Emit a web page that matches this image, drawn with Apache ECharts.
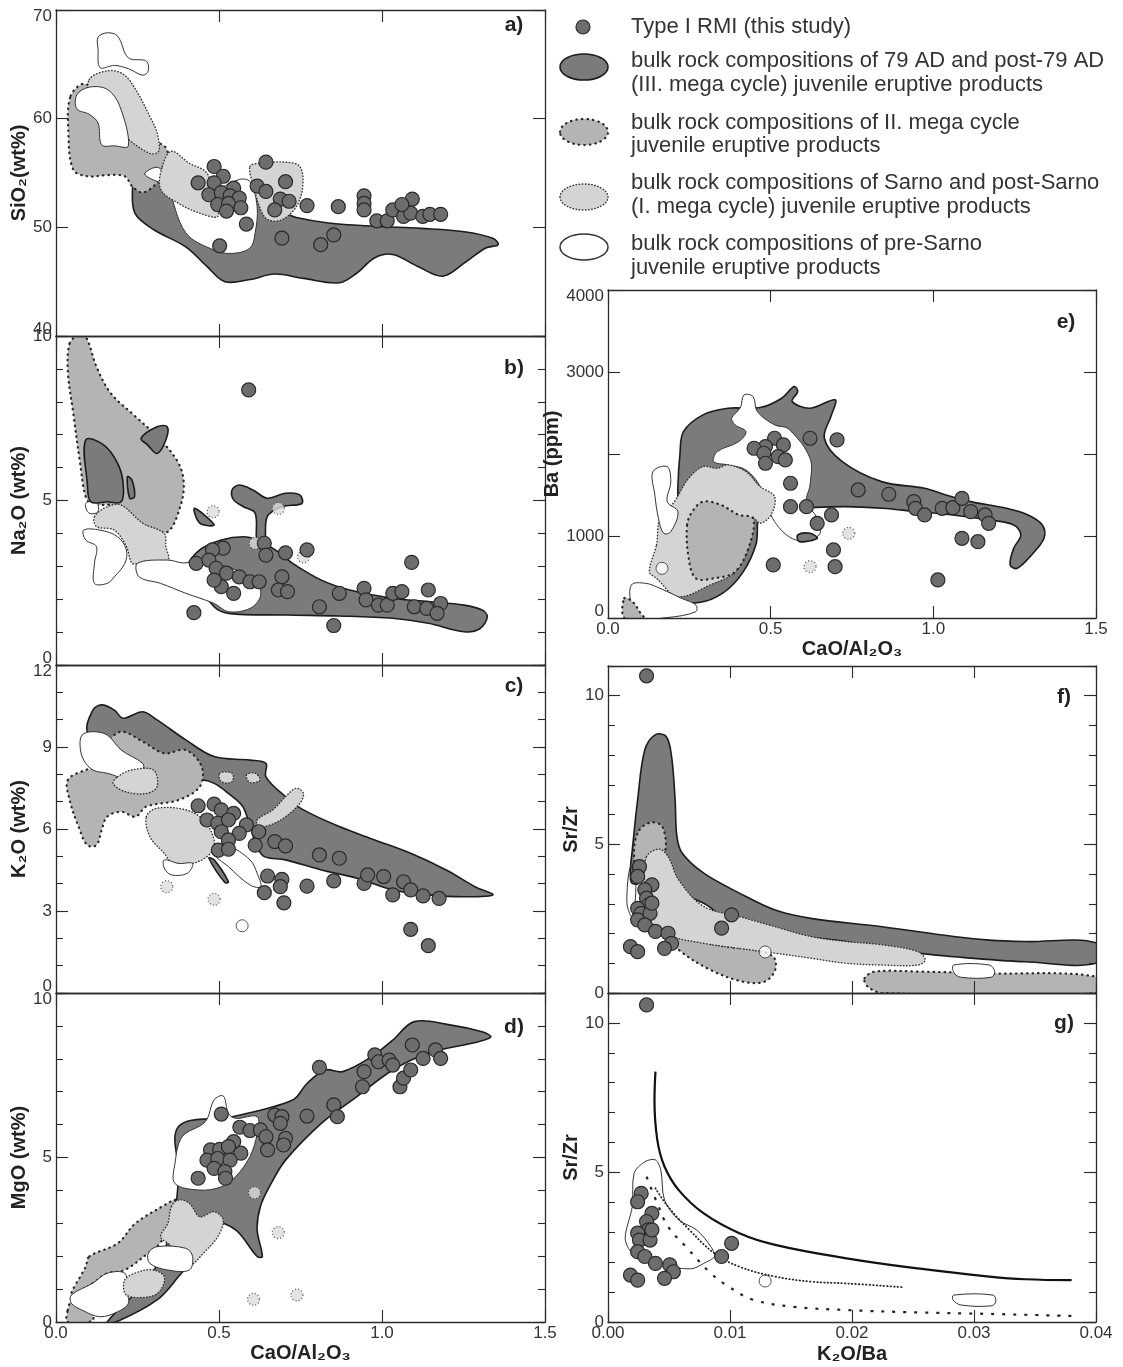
<!DOCTYPE html>
<html><head><meta charset="utf-8">
<script src="https://cdn.jsdelivr.net/npm/echarts/dist/echarts.min.js"></script>
<style>html,body{margin:0;padding:0;background:#fff}#c{width:1123px;height:1367px}</style>
</head><body><div id="c"></div><script>
// ---------------- DATA ----------------
// Panel a: SiO2 vs CaO/Al2O3
const aDark=[[0.235,53.8],[0.242,51.3],[0.299,49.8],[0.398,48.2],[0.463,46.4],[0.518,45.0],[0.595,45.2],[0.671,45.7],[0.759,45.3],[0.869,44.9],[0.923,45.8],[0.978,47.2],[1.033,47.5],[1.110,46.4],[1.186,45.5],[1.252,46.7],[1.318,48.1],[1.356,48.4],[1.340,49.0],[1.252,49.6],[1.120,49.9],[0.978,50.1],[0.836,50.4],[0.737,50.9],[0.704,51.3],[0.617,52.6],[0.485,52.6],[0.343,53.8],[0.288,54.7],[0.244,54.7]];
const aMid=[[0.045,62.1],[0.091,63.2],[0.157,60.9],[0.244,58.1],[0.332,57.5],[0.343,55.6],[0.310,54.1],[0.266,53.2],[0.233,53.8],[0.211,54.7],[0.157,54.8],[0.096,54.7],[0.053,55.3],[0.038,58.7]];
const aLight1=[[0.102,63.6],[0.157,64.4],[0.206,64.1],[0.244,62.7],[0.288,60.2],[0.310,58.7],[0.315,57.0],[0.288,56.8],[0.222,58.1],[0.157,59.9],[0.107,61.8]];
const aLight2=[[0.326,55.6],[0.354,57.0],[0.409,55.9],[0.463,55.0],[0.485,52.6],[0.496,51.0],[0.441,51.3],[0.376,52.2],[0.321,53.5]];
const aLight3=[[0.595,55.6],[0.628,55.9],[0.704,56.0],[0.748,55.6],[0.757,53.8],[0.737,51.9],[0.693,50.7],[0.650,50.7],[0.628,51.6],[0.606,53.8]];
const aWhite1=[[0.129,67.5],[0.157,67.9],[0.189,67.6],[0.222,65.6],[0.277,65.3],[0.283,64.4],[0.266,64.0],[0.222,64.6],[0.179,64.9],[0.135,64.7],[0.129,66.4]];
const aWhite2=[[0.064,62.2],[0.102,62.9],[0.157,62.7],[0.195,61.2],[0.222,57.5],[0.179,57.5],[0.140,57.6],[0.129,59.6],[0.102,60.4],[0.064,60.9]];
const aWhite3=[[0.272,54.9],[0.315,55.5],[0.343,53.8],[0.398,49.5],[0.485,47.9],[0.540,47.6],[0.595,48.1],[0.611,49.5],[0.617,51.9],[0.595,54.2],[0.562,54.4],[0.450,53.0],[0.330,54.0]];
const aPts=[[0.485,55.6],[0.513,54.7],[0.436,54.1],[0.485,54.1],[0.545,53.6],[0.469,53.0],[0.507,53.2],[0.534,52.9],[0.562,52.7],[0.496,52.1],[0.529,52.2],[0.567,51.8],[0.523,51.5],[0.584,50.3],[0.502,48.3],[0.644,56.0],[0.617,53.8],[0.644,53.3],[0.704,54.2],[0.688,52.6],[0.715,52.4],[0.671,51.6],[0.770,52.0],[0.866,51.9],[0.945,52.9],[0.945,52.2],[0.945,51.6],[0.693,49.0],[0.812,48.4],[0.852,49.3],[0.984,50.6],[1.016,50.6],[1.033,51.6],[1.066,51.0],[1.088,51.3],[1.093,52.6],[1.125,51.0],[1.147,51.2],[1.180,51.2],[1.061,52.1]];

// Panel b: Na2O vs CaO/Al2O3
const bMid=[[0.042,9.78],[0.064,10.0],[0.091,9.98],[0.124,9.07],[0.168,8.26],[0.244,7.55],[0.321,6.84],[0.376,6.13],[0.392,5.52],[0.381,4.81],[0.343,4.05],[0.288,4.18],[0.222,4.51],[0.168,4.86],[0.113,4.86],[0.091,5.12],[0.074,6.13],[0.053,7.65],[0.036,8.97]];
const bLight=[[0.118,4.51],[0.157,4.81],[0.200,4.86],[0.266,4.31],[0.332,4.00],[0.337,3.60],[0.343,3.19],[0.254,3.09],[0.233,3.09],[0.216,3.60],[0.179,4.10],[0.124,4.21]];
const bWhite1=[[0.091,4.91],[0.124,4.96],[0.129,4.66],[0.102,4.61]];
const bWhite2=[[0.085,4.10],[0.135,4.10],[0.189,3.90],[0.216,3.50],[0.211,3.09],[0.179,2.68],[0.157,2.48],[0.118,2.48],[0.118,3.09],[0.124,3.60],[0.091,3.80]];
const bDark1=[[0.091,6.84],[0.146,6.69],[0.189,6.13],[0.206,5.52],[0.200,4.96],[0.157,4.96],[0.107,4.96],[0.096,5.52]];
const bDark2=[[0.261,6.89],[0.310,7.24],[0.341,7.24],[0.337,6.84],[0.310,6.43],[0.280,6.70]];
const bDark3=[[0.219,5.72],[0.233,5.62],[0.241,5.12],[0.226,5.07]];
const bDark4=[[0.540,5.32],[0.562,5.47],[0.604,5.32],[0.648,5.07],[0.704,5.22],[0.748,5.17],[0.754,4.91],[0.693,4.81],[0.648,4.51],[0.639,3.70],[0.617,3.70],[0.611,4.61],[0.575,4.81],[0.545,5.02]];
const bDark5=[[0.425,4.76],[0.485,4.26],[0.441,4.31]];
const bDark6=[[0.403,2.99],[0.441,3.50],[0.507,3.80],[0.575,3.90],[0.617,3.80],[0.682,3.44],[0.726,3.09],[0.814,2.58],[0.901,2.28],[1.033,2.03],[1.142,1.93],[1.252,1.82],[1.307,1.67],[1.323,1.47],[1.301,1.11],[1.252,1.01],[1.142,1.27],[1.033,1.42],[0.869,1.49],[0.704,1.52],[0.529,1.57],[0.485,1.77],[0.419,2.68]];
const bWhite3=[[0.250,3.09],[0.255,2.68],[0.321,2.48],[0.398,2.18],[0.485,1.87],[0.529,1.62],[0.595,1.72],[0.627,2.08],[0.617,2.48],[0.551,2.89],[0.485,3.09],[0.441,3.19],[0.392,3.10],[0.343,3.19]];
const bSmallMid=[[0.482,4.66],[0.682,4.76],[0.759,3.29],[0.611,3.70]];
const bPts=[[0.591,8.36],[0.423,1.59],[0.852,1.20],[1.091,3.12],[1.142,2.28],[0.770,3.50],[0.639,3.70],[0.644,3.34],[0.704,3.41],[0.513,3.55],[0.480,3.50],[0.430,3.09],[0.469,3.19],[0.491,2.94],[0.523,2.79],[0.562,2.68],[0.595,2.53],[0.623,2.53],[0.693,2.68],[0.682,2.28],[0.710,2.23],[0.507,2.38],[0.545,2.18],[0.485,2.58],[0.869,2.18],[0.945,2.33],[0.951,1.98],[0.989,1.82],[1.016,1.82],[1.033,2.18],[1.061,2.23],[1.099,1.77],[1.137,1.72],[1.180,1.87],[1.169,1.57],[0.808,1.77]];

// Panel c: K2O vs CaO/Al2O3
const cDark=[[0.096,9.56],[0.113,10.35],[0.140,10.54],[0.179,10.35],[0.206,10.05],[0.266,10.29],[0.310,9.99],[0.398,9.26],[0.485,8.65],[0.595,8.52],[0.644,8.40],[0.644,7.91],[0.704,7.18],[0.759,6.70],[0.869,6.09],[0.978,5.60],[1.088,5.11],[1.197,4.50],[1.285,3.89],[1.340,3.59],[1.252,3.52],[1.142,3.59],[1.033,3.77],[0.923,4.20],[0.814,4.50],[0.704,4.87],[0.639,4.99],[0.617,5.35],[0.595,6.09],[0.573,6.82],[0.529,7.30],[0.485,7.67],[0.441,7.79],[0.376,7.55],[0.266,8.16],[0.157,9.01]];
const cMid=[[0.036,7.79],[0.091,8.16],[0.135,8.28],[0.157,9.13],[0.200,9.56],[0.266,9.20],[0.332,8.77],[0.398,8.89],[0.447,8.28],[0.441,7.55],[0.376,7.06],[0.277,6.82],[0.244,6.45],[0.200,6.63],[0.157,6.45],[0.140,5.96],[0.124,5.41],[0.096,5.41],[0.069,6.09],[0.042,7.06]];
const cWhite1=[[0.080,9.44],[0.113,9.56],[0.157,9.44],[0.200,8.89],[0.266,8.40],[0.266,8.16],[0.222,7.85],[0.157,8.04],[0.113,8.16],[0.085,8.52],[0.074,9.01]];
const cLight1=[[0.189,7.91],[0.233,8.16],[0.299,8.16],[0.310,7.55],[0.277,7.30],[0.211,7.37],[0.175,7.67]];
const cLight2=[[0.277,6.45],[0.310,6.76],[0.398,6.70],[0.452,6.33],[0.485,5.60],[0.474,5.11],[0.419,4.74],[0.354,4.80],[0.332,5.11],[0.288,5.72]];
const cLight3=[[0.617,6.33],[0.665,6.70],[0.704,7.18],[0.737,7.49],[0.759,7.30],[0.748,6.94],[0.704,6.45],[0.660,6.16],[0.622,6.09]];
const cLight4=[[0.584,7.98],[0.611,8.04],[0.626,7.79],[0.595,7.70]];
const cLight5=[[0.502,8.04],[0.540,8.04],[0.540,7.73],[0.507,7.73]];
const cWhite2=[[0.332,4.87],[0.376,4.74],[0.419,4.74],[0.403,4.38],[0.354,4.32],[0.332,4.57]];
const cWhite3=[[0.485,5.11],[0.529,5.35],[0.595,4.87],[0.617,4.38],[0.628,3.89],[0.595,3.95],[0.529,4.62]];
const cDark2=[[0.469,4.93],[0.485,4.87],[0.529,4.07],[0.518,4.04]];
const cSmallMid=[[0.340,3.89],[0.485,3.43]];
const cSmallWhite=[[0.571,2.46]];
const cPts=[[0.436,6.85],[0.485,6.91],[0.507,6.70],[0.545,6.57],[0.463,6.33],[0.496,6.21],[0.529,6.33],[0.584,6.15],[0.507,5.90],[0.562,5.84],[0.622,5.90],[0.529,5.60],[0.611,5.41],[0.671,5.54],[0.704,5.38],[0.498,5.23],[0.529,5.26],[0.808,5.05],[0.869,4.93],[0.649,4.28],[0.693,4.16],[0.688,3.89],[0.639,3.67],[0.699,3.30],[0.770,3.91],[0.852,4.10],[0.945,4.01],[0.956,4.32],[1.005,4.26],[1.033,3.59],[1.066,4.07],[1.088,3.77],[1.126,3.55],[1.175,3.46],[1.088,2.33],[1.142,1.73]];

// Panel d: MgO vs CaO/Al2O3
const dDark=[[0.376,5.94],[0.540,6.24],[0.726,6.75],[0.770,7.25],[0.825,7.66],[0.879,7.61],[0.967,8.06],[1.033,8.57],[1.099,9.13],[1.208,9.03],[1.307,8.82],[1.334,8.67],[1.296,8.52],[1.142,8.17],[1.033,7.66],[0.923,6.85],[0.814,6.04],[0.704,4.92],[0.660,4.21],[0.627,3.51],[0.617,2.80],[0.633,1.99],[0.617,1.99],[0.551,2.80],[0.485,3.00],[0.441,2.19],[0.376,1.38],[0.310,0.67],[0.189,0.02],[0.157,0.0],[0.288,1.38],[0.354,2.80],[0.376,4.42]];
const dMid1=[[0.102,1.99],[0.189,2.39],[0.244,3.00],[0.343,3.61],[0.365,3.71],[0.343,2.80],[0.310,2.29],[0.283,2.09],[0.211,1.58],[0.157,1.48],[0.113,1.18],[0.047,0.82],[0.091,1.68]];
const dMid2=[[0.036,0.36],[0.053,0.72],[0.091,0.57],[0.113,0.06],[0.036,0.0]];
const dLight1=[[0.354,3.51],[0.376,3.71],[0.409,3.61],[0.441,3.20],[0.485,3.35],[0.513,3.10],[0.496,2.59],[0.452,2.09],[0.409,1.68],[0.376,1.63],[0.354,2.29],[0.321,2.59],[0.343,3.00]];
const dWhite1=[[0.365,4.82],[0.387,5.63],[0.458,6.09],[0.485,6.75],[0.513,6.87],[0.529,6.34],[0.551,6.19],[0.617,6.24],[0.617,5.73],[0.595,5.03],[0.551,4.42],[0.507,4.11],[0.441,4.01],[0.365,4.21]];
const dWhite2=[[0.283,2.09],[0.310,2.29],[0.398,2.24],[0.419,1.99],[0.409,1.58],[0.343,1.58],[0.288,1.78]];
const dWhite3=[[0.047,0.82],[0.113,1.18],[0.157,1.48],[0.211,1.48],[0.216,0.97],[0.222,0.57],[0.189,0.31],[0.135,0.16],[0.080,0.36],[0.047,0.57]];
const dLight2=[[0.211,1.28],[0.255,1.53],[0.299,1.58],[0.332,1.38],[0.321,0.97],[0.288,0.77],[0.216,0.82]];
const dSmallMid=[[0.609,3.93],[0.682,2.72],[0.606,0.69],[0.739,0.82]];
const dPts=[[0.507,6.32],[0.564,5.92],[0.595,5.82],[0.627,5.84],[0.644,5.63],[0.671,6.29],[0.693,6.24],[0.688,6.04],[0.770,6.26],[0.852,6.60],[0.863,6.24],[0.704,5.58],[0.698,5.38],[0.649,5.23],[0.545,5.48],[0.474,5.23],[0.502,5.25],[0.529,5.33],[0.567,5.13],[0.463,4.92],[0.496,4.97],[0.534,4.92],[0.485,4.67],[0.518,4.57],[0.436,4.37],[0.520,4.37],[0.808,7.74],[0.940,7.15],[0.945,7.61],[0.978,8.12],[0.989,7.91],[1.022,7.96],[1.033,7.81],[1.055,7.15],[1.066,7.41],[1.088,7.66],[1.093,8.42],[1.126,8.01],[1.164,8.27],[1.180,8.01]];

// Panel e: Ba vs CaO/Al2O3
const eDark=[[0.221,1989],[0.232,2273],[0.292,2477],[0.369,2558],[0.468,2566],[0.534,2680],[0.572,2822],[0.583,2761],[0.566,2640],[0.621,2558],[0.698,2660],[0.687,2477],[0.665,2192],[0.720,1907],[0.841,1663],[0.973,1582],[1.038,1501],[1.115,1419],[1.225,1338],[1.291,1257],[1.335,1135],[1.340,972],[1.302,769],[1.258,606],[1.236,647],[1.247,850],[1.269,1013],[1.247,1135],[1.170,1196],[1.060,1257],[0.951,1297],[0.841,1338],[0.731,1358],[0.621,1346],[0.560,1330],[0.470,1300],[0.455,900],[0.415,560],[0.355,310],[0.280,190],[0.204,240],[0.215,525],[0.215,1216],[0.215,1623]];
const eWhite1=[[0.380,2436],[0.407,2566],[0.418,2720],[0.446,2700],[0.459,2517],[0.512,2355],[0.555,2306],[0.621,1948],[0.621,1623],[0.610,1419],[0.643,1216],[0.649,1013],[0.577,952],[0.512,1175],[0.468,1602],[0.424,1806],[0.369,1867],[0.325,1907],[0.336,2029],[0.402,2151],[0.424,2273],[0.391,2355]];
const eLight=[[0.149,891],[0.160,1216],[0.204,1419],[0.248,1704],[0.292,1846],[0.336,1826],[0.369,1867],[0.424,1785],[0.468,1602],[0.512,1480],[0.501,1257],[0.468,1155],[0.446,1216],[0.435,891],[0.391,565],[0.314,403],[0.215,260],[0.149,484],[0.127,565]];
const eMid=[[0.243,1135],[0.259,1297],[0.292,1419],[0.347,1379],[0.402,1257],[0.446,1216],[0.435,891],[0.391,565],[0.325,484],[0.270,484],[0.248,728]];
const eWhite2=[[0.138,1785],[0.182,1846],[0.193,1663],[0.182,1419],[0.215,1297],[0.193,1053],[0.171,1033],[0.155,1216],[0.144,1501]];
const eWhite3=[[0.072,403],[0.116,423],[0.160,362],[0.226,240],[0.270,159],[0.270,77],[0.182,5],[0.094,5],[0.072,159]];
const eMid2=[[0.050,240],[0.075,200],[0.100,60],[0.110,0],[0.050,0]];
const eDark2=[[0.583,1013],[0.621,1033],[0.643,972],[0.588,931]];
const eSmallWhite=[[0.166,606]];
const eSmallMid=[[0.740,1033],[0.621,626]];
const ePts=[[0.512,2192],[0.484,2090],[0.539,2111],[0.449,2070],[0.479,2009],[0.523,1968],[0.545,1928],[0.484,1887],[0.621,2192],[0.704,2172],[0.561,1643],[0.561,1358],[0.610,1358],[0.643,1155],[0.687,1257],[0.693,830],[0.698,626],[0.508,647],[0.769,1562],[0.863,1509],[0.940,1419],[0.945,1338],[0.973,1257],[1.027,1338],[1.060,1346],[1.088,1460],[1.115,1297],[1.159,1257],[1.170,1155],[1.088,972],[1.137,931],[1.014,464]];

// Panel f: Sr/Zr vs K2O/Ba (fields)
const fDark=[[0.00184,4.14],[0.00199,4.81],[0.00243,6.50],[0.00302,8.18],[0.00389,8.69],[0.00477,8.63],[0.00521,7.96],[0.00550,6.50],[0.00565,5.26],[0.00609,4.70],[0.00785,4.03],[0.01077,3.36],[0.01370,2.79],[0.01663,2.51],[0.02248,2.23],[0.02834,1.90],[0.03126,1.78],[0.03419,1.73],[0.04,1.69],[0.04,1.00],[0.03419,1.05],[0.02834,1.22],[0.02541,1.34],[0.02248,1.50],[0.01955,1.73],[0.01370,2.01],[0.01077,2.23],[0.00931,2.57],[0.00785,3.02],[0.00345,3.69],[0.00199,3.69]];
const fMid1=[[0.00258,5.49],[0.00360,5.74],[0.00448,5.58],[0.00463,4.70],[0.00345,4.37],[0.00316,3.02],[0.00404,2.23],[0.00580,1.45],[0.00843,0.77],[0.01107,0.38],[0.01282,0.38],[0.01370,0.77],[0.01355,1.22],[0.01194,1.45],[0.00960,1.56],[0.00726,1.78],[0.00492,2.12],[0.00345,2.57],[0.00243,3.69],[0.00214,4.81]];
const fLight=[[0.00316,4.59],[0.00419,4.84],[0.00492,4.59],[0.00580,3.80],[0.00785,2.91],[0.01077,2.57],[0.01370,2.23],[0.01663,1.90],[0.01955,1.73],[0.02248,1.62],[0.02541,1.39],[0.02600,1.11],[0.02541,0.94],[0.02248,0.94],[0.01955,1.00],[0.01663,1.17],[0.01370,1.34],[0.01077,1.50],[0.00785,1.67],[0.00492,1.95],[0.00345,2.46],[0.00302,3.69]];
const fMid2=[[0.02102,0.49],[0.02190,0.72],[0.02541,0.72],[0.03126,0.66],[0.04,0.55],[0.04,0.0],[0.02248,0.0],[0.02131,0.21]];
const fWhite1=[[0.02834,0.94],[0.03126,0.94],[0.03170,0.72],[0.03141,0.53],[0.02892,0.53],[0.02834,0.69]];
const fWhite2=[[0.00184,4.25],[0.00155,3.02],[0.00199,2.57],[0.00228,3.69]];
const fSmallWhite=[[0.01288,1.38]];
const fPts=[[0.00316,10.67],[0.00258,4.25],[0.00243,3.92],[0.00360,3.64],[0.00302,3.47],[0.00316,3.19],[0.00331,2.96],[0.00243,2.85],[0.00272,2.68],[0.00345,2.68],[0.00243,2.46],[0.00302,2.29],[0.00389,2.07],[0.00492,2.01],[0.00521,1.67],[0.00463,1.50],[0.00184,1.56],[0.00243,1.39],[0.00931,2.18],[0.01013,2.63],[0.00360,3.02]];

// Panel g: Sr/Zr vs K2O/Ba (model curves)
const gSolid=[[0.00389,8.37],[0.00381,7.42],[0.00404,6.09],[0.00463,5.20],[0.00580,4.41],[0.00785,3.63],[0.01077,2.97],[0.01370,2.58],[0.01955,2.13],[0.02541,1.79],[0.03126,1.52],[0.03419,1.43],[0.03800,1.40]];
const gDotted=[[0.00389,4.47],[0.00492,3.86],[0.00667,3.08],[0.00872,2.30],[0.01077,1.85],[0.01370,1.52],[0.01663,1.35],[0.01955,1.29],[0.02424,1.16]];
const gDashed=[[0.00316,4.86],[0.00404,3.97],[0.00492,3.19],[0.00638,2.52],[0.00843,1.63],[0.00990,1.18],[0.01194,0.74],[0.01516,0.51],[0.01955,0.40],[0.02541,0.32],[0.03126,0.27],[0.03829,0.20]];
const gPoly=[[0.00141,2.80],[0.00199,3.86],[0.00214,4.97],[0.00302,5.36],[0.00389,5.42],[0.00433,5.08],[0.00463,4.08],[0.00580,3.41],[0.00726,3.08],[0.00843,2.52],[0.00872,2.19],[0.00785,1.96],[0.00697,1.79],[0.00609,1.79],[0.00492,1.85],[0.00345,2.07],[0.00199,2.30]];
const gWhite=[[0.02834,0.90],[0.03156,0.90],[0.03179,0.68],[0.03141,0.54],[0.02892,0.57],[0.02828,0.74]];
const gSmallWhite=[[0.01288,1.37]];
const gPts=[[0.00316,10.60],[0.00272,4.30],[0.00243,4.02],[0.00360,3.63],[0.00316,3.36],[0.00331,3.08],[0.00243,2.97],[0.00258,2.74],[0.00345,2.74],[0.00243,2.35],[0.00302,2.19],[0.00389,1.96],[0.00506,1.91],[0.00536,1.68],[0.00463,1.46],[0.00184,1.57],[0.00243,1.40],[0.00931,2.19],[0.01013,2.63],[0.00360,3.08]];

// Tick/label settings
const leftXTicks={min:0,max:1.5,major:0.5};
const eYTicks={min:0,max:4000,major:1000};
const srZrTicks={min:0,max:11,major:5,minor:1};
const kBaTicks={min:0,max:0.04,major:0.01};

const legendTexts=[['Type I RMI (this study)'],['bulk rock compositions of 79 AD and post-79 AD','(III. mega cycle) juvenile eruptive products'],['bulk rock compositions of II. mega cycle','juvenile eruptive products'],['bulk rock compositions of Sarno and post-Sarno','(I. mega cycle) juvenile eruptive products'],['bulk rock compositions of pre-Sarno','juvenile eruptive products']];
const panelLetters=['a)','b)','c)','d)','e)','f)','g)'];

// ---------------- STYLE / BUILD ----------------
const FONT='"Liberation Sans", Arial, Helvetica, sans-serif';
const STY={
  dark:{fill:'#7b7b7b',stroke:'#1c1c1c',lineWidth:1.6},
  mid:{fill:'#b4b4b4',stroke:'#262626',lineWidth:2.2,lineDash:[0.5,5],lineCap:'round'},
  light:{fill:'#d4d4d4',stroke:'#333',lineWidth:1.4,lineDash:[0.5,2.6],lineCap:'round'},
  white:{fill:'#ffffff',stroke:'#333',lineWidth:1},
  outline:{fill:'none',stroke:'#333',lineWidth:1}
};
const grids=[
  {left:56,top:10,width:489,height:326},
  {left:56,top:336,width:489,height:329},
  {left:56,top:665,width:489,height:328},
  {left:56,top:993,width:489,height:329},
  {left:608,top:290,width:488,height:328},
  {left:608,top:666,width:488,height:327},
  {left:608,top:993,width:488,height:329}
];
const xAxes=[],yAxes=[];const mainX=[],mainY=[];
function mkAxis(list,gi,pos,t,interval,len,label,showLine){
  const ax={type:'value',gridIndex:gi,position:pos,min:t.min,max:t.max,interval:interval,z:10,
    axisLine:{show:showLine,onZero:false,lineStyle:{color:'#2b2b2b',width:1.3}},
    axisTick:{show:true,inside:true,length:len,lineStyle:{color:'#2b2b2b',width:1.1}},
    splitLine:{show:false},axisLabel:{show:false},axisPointer:{show:false}};
  if(label){Object.assign(ax,label);}
  list.push(ax);return list.length-1;
}
function side(list,gi,pos,t,label){
  const idx=mkAxis(list,gi,pos,t,t.major,t.majorLen||12,label,true);
  if(t.minor) mkAxis(list,gi,pos,t,t.minor,7,null,false);
  return idx;
}
function labelCfg(dim,t,o){
  const fmt=v=>{
    const r=v/t.major; if(Math.abs(r-Math.round(r))>1e-6) return '';
    if(o.hide&&o.hide.indexOf(v)>=0) return '';
    const s=o.dec!=null?v.toFixed(o.dec):String(v);
    if(o.nudgeMin&&v===t.min) return '{u|'+s+'}';
    if(o.nudgeMax&&v===t.max) return '{d|'+s+'}';
    return s;};
  const base={fontSize:17,fontFamily:FONT,color:'#333'};
  const c={axisLabel:Object.assign({show:true,margin:dim==='x'?3:4,formatter:fmt,
    rich:{u:Object.assign({padding:[0,0,13,0]},base),d:Object.assign({padding:[12,0,0,0]},base)}},base)};
  if(o.name){c.name=o.name;c.nameLocation='middle';c.nameGap=o.gap;
    c.nameTextStyle={fontSize:20,fontWeight:'bold',fontFamily:FONT,color:'#222'};}
  return c;
}
const panelAx=[
  {x:leftXTicks,y:{min:40,max:70,major:10},yl:{name:'SiO₂(wt%)',gap:27,nudgeMin:true,nudgeMax:true}},
  {x:leftXTicks,y:{min:0,max:10,major:5,minor:1},yl:{name:'Na₂O (wt%)',gap:27,nudgeMin:true}},
  {x:leftXTicks,y:{min:0,max:12,major:3,minor:1},yl:{name:'K₂O (wt%)',gap:27,nudgeMin:true,nudgeMax:true}},
  {x:leftXTicks,y:{min:0,max:10,major:5,minor:1},yl:{name:'MgO (wt%)',gap:27,nudgeMax:true},xl:{name:'CaO/Al₂O₃',gap:21,dec:1}},
  {x:leftXTicks,y:eYTicks,yl:{name:'Ba (ppm)',gap:22,hide:[2000],nudgeMin:true,nudgeMax:true},xl:{name:'CaO/Al₂O₃',gap:21,dec:1}},
  {x:kBaTicks,y:srZrTicks,yl:{name:'Sr/Zr',gap:22}},
  {x:kBaTicks,y:srZrTicks,yl:{name:'Sr/Zr',gap:22},xl:{name:'K₂O/Ba',gap:22,dec:2}}
];
panelAx.forEach((p,gi)=>{
  mainX[gi]=side(xAxes,gi,'bottom',p.x,p.xl?labelCfg('x',p.x,p.xl):null);
  side(xAxes,gi,'top',p.x,null);
  mainY[gi]=side(yAxes,gi,'left',p.y,p.yl?labelCfg('y',p.y,p.yl):null);
  side(yAxes,gi,'right',p.y,null);
});

const series=[];
function field(gi,kind,pts,smooth){
  series.push({type:'custom',xAxisIndex:mainX[gi],yAxisIndex:mainY[gi],clip:true,silent:true,data:pts,
    renderItem:(params,api)=>{
      if(params.dataIndex!==0) return;
      return {type:'polygon',shape:{points:pts.map(v=>api.coord(v)),smooth:smooth==null?0.35:smooth},style:Object.assign({},STY[kind])};
    }});
}
function small(gi,kind,pts){
  const st=kind==='white'?{color:'#fff',borderColor:'#333',borderWidth:1}:{color:'#dcdcdc',borderColor:'#333',borderWidth:1.3,borderType:[1,2.2]};
  series.push({type:'scatter',xAxisIndex:mainX[gi],yAxisIndex:mainY[gi],data:pts,symbolSize:12,silent:true,itemStyle:st});
}
function points(gi,pts){
  series.push({type:'scatter',xAxisIndex:mainX[gi],yAxisIndex:mainY[gi],data:pts,symbolSize:14,silent:true,clip:true,z:5,
    itemStyle:{color:'#6d6d6d',borderColor:'#2a2a2a',borderWidth:1.2,opacity:1}});
}
function curve(gi,pts,ls){
  series.push({type:'line',xAxisIndex:mainX[gi],yAxisIndex:mainY[gi],data:pts,smooth:0.4,showSymbol:false,symbol:'none',silent:true,lineStyle:ls});
}
// a
[['dark',aDark],['mid',aMid],['light',aLight1],['white',aWhite1],['white',aWhite2],['white',aWhite3],['light',aLight2],['light',aLight3]].forEach(f=>field(0,f[0],f[1]));
points(0,aPts);
// b
[['mid',bMid],['light',bLight],['white',bWhite1],['white',bWhite2],['dark',bDark1],['dark',bDark2],['dark',bDark3],['dark',bDark4],['dark',bDark5],['dark',bDark6],['white',bWhite3]].forEach(f=>field(1,f[0],f[1]));
small(1,'mid',bSmallMid);points(1,bPts);
// c
[['dark',cDark],['mid',cMid],['white',cWhite1],['light',cLight1],['light',cLight2],['light',cLight3],['light',cLight4],['light',cLight5],['white',cWhite2],['white',cWhite3],['dark',cDark2]].forEach(f=>field(2,f[0],f[1]));
small(2,'mid',cSmallMid);small(2,'white',cSmallWhite);points(2,cPts);
// d
[['dark',dDark],['mid',dMid1],['mid',dMid2],['light',dLight1],['white',dWhite1],['white',dWhite2],['white',dWhite3],['light',dLight2]].forEach(f=>field(3,f[0],f[1]));
small(3,'mid',dSmallMid);points(3,dPts);
// e
[['dark',eDark],['white',eWhite1],['light',eLight],['mid',eMid],['white',eWhite2],['white',eWhite3],['mid',eMid2],['dark',eDark2]].forEach(f=>field(4,f[0],f[1]));
small(4,'white',eSmallWhite);small(4,'mid',eSmallMid);points(4,ePts);
// f
[['dark',fDark],['mid',fMid1],['light',fLight],['mid',fMid2],['white',fWhite1],['outline',fWhite2]].forEach(f=>field(5,f[0],f[1]));
small(5,'white',fSmallWhite);points(5,fPts);
// g
field(6,'outline',gPoly,0.3);field(6,'white',gWhite);
curve(6,gSolid,{color:'#111',width:2.2});
curve(6,gDotted,{color:'#222',width:1.8,type:[0.5,3],cap:'round'});
curve(6,gDashed,{color:'#222',width:2.2,type:[3,8],cap:'butt'});
small(6,'white',gSmallWhite);points(6,gPts);

// graphic: panel letters + legend
const graphic=[];
const letterPos=[[514,25],[514,368],[514,686],[514,1027],[1066,322],[1064,697],[1064,1023]];
panelLetters.forEach((t,i)=>graphic.push({type:'text',x:letterPos[i][0],y:letterPos[i][1],z:20,
  style:{text:t,font:'bold 21px '+FONT,fill:'#222',align:'center',verticalAlign:'middle'}}));
graphic.push({type:'circle',shape:{cx:583,cy:27,r:7},style:{fill:'#6d6d6d',stroke:'#2a2a2a',lineWidth:1.2}});
const legKinds=['dark','mid','light','white'];const legY=[67,132,197,247];
legKinds.forEach((k,i)=>graphic.push({type:'ellipse',shape:{cx:584,cy:legY[i],rx:24,ry:13},style:Object.assign({},STY[k],k==='white'?{lineWidth:1.5}:{})}));
const textY=[[27],[61,85],[123,146],[183,207],[244,268]];
legendTexts.forEach((lines,i)=>lines.forEach((s,j)=>graphic.push({type:'text',x:631,y:textY[i][j],
  style:{text:s,font:'22px '+FONT,fill:'#333',verticalAlign:'middle'}})));

const chart=echarts.init(document.getElementById('c'));
chart.setOption({animation:false,backgroundColor:'#fff',grid:grids,xAxis:xAxes,yAxis:yAxes,series:series,graphic:graphic});
</script></body></html>
